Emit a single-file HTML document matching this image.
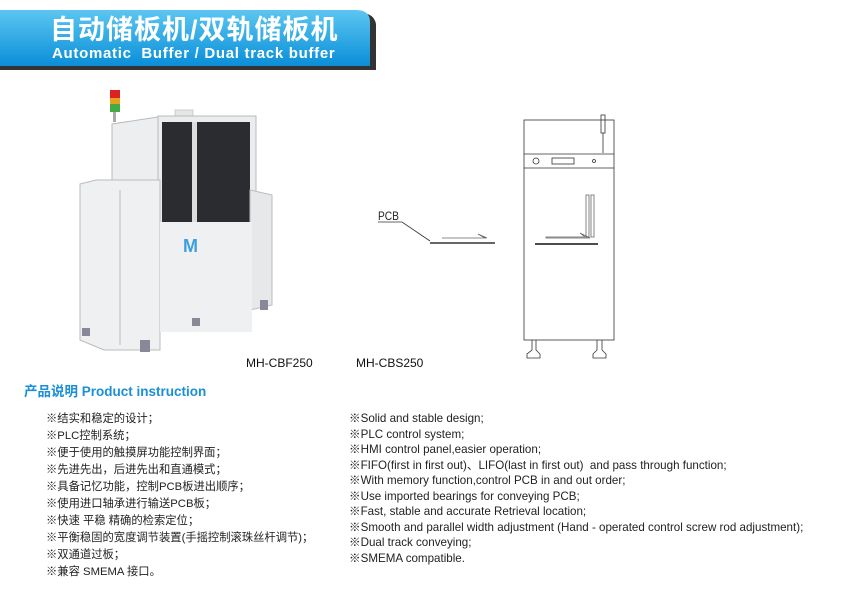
<!DOCTYPE html>
<html><head><meta charset="utf-8"><style>
body{margin:0;width:856px;height:601px;background:#fff;position:relative;overflow:hidden;font-family:"Liberation Sans","Noto Sans CJK SC",sans-serif;}
.t{position:absolute;white-space:nowrap;}
.cn div{height:17px;line-height:17px;font-size:11.3px;color:#222;}
.en div{height:15.5px;line-height:15.5px;font-size:11.6px;color:#222;}
</style></head><body>
<svg width="856" height="601" style="position:absolute;left:0;top:0">
<defs>
<linearGradient id="bl" x1="0" y1="0" x2="0" y2="1"><stop offset="0" stop-color="#5cc6f2"/><stop offset="1" stop-color="#0a8fd8"/></linearGradient>
</defs>
<path d="M0 13 H360 Q374 13 376 24 V70 H0 Z" fill="#333"/>
<path d="M0 10 H356 Q370 10 370 22 V66 H0 Z" fill="url(#bl)"/>
<rect x="110" y="90" width="10" height="8" fill="#d22"/>
<rect x="110" y="98" width="10" height="6" fill="#e8a020"/>
<rect x="110" y="104" width="10" height="8" fill="#4a4"/>
<rect x="113" y="112" width="3" height="10" fill="#aaa"/>
<path d="M112 124 L158 117 V185 H112 Z" fill="#eceef0" stroke="#bbb"/>
<rect x="175" y="110" width="18" height="8" fill="#e6e6e6" stroke="#ccc"/>
<rect x="158" y="116" width="98" height="110" fill="#eaecee" stroke="#bbb"/>
<rect x="162" y="122" width="88" height="100" fill="#2a2c30"/>
<rect x="192" y="122" width="5" height="100" fill="#ddd"/>
<path d="M80 184 L96 180 H160 V350 H104 L80 340 Z" fill="#eff0f2" stroke="#bbb"/>
<path d="M250 190 L272 195 V305 L250 310 Z" fill="#e6e8ea" stroke="#bbb"/>
<rect x="160" y="222" width="92" height="110" fill="#eff0f2"/>
<line x1="120" y1="190" x2="120" y2="345" stroke="#bbb"/>
<text x="183" y="252" font-family="Liberation Sans" font-weight="bold" font-size="18" fill="#3aa0e0">M</text>
<rect x="140" y="340" width="10" height="12" fill="#889"/>
<rect x="260" y="300" width="8" height="10" fill="#889"/>
<rect x="82" y="328" width="8" height="8" fill="#889"/>
<rect x="192" y="318" width="8" height="8" fill="#889"/>
<g fill="none" stroke="#333" stroke-width="0.8">
<text x="378" y="220" font-family="Liberation Sans" font-size="12" fill="#222" stroke="none" transform="translate(378 0) scale(0.85 1) translate(-378 0)">PCB</text>
<path d="M378 222 H402 L430 241"/>
<line x1="430" y1="243" x2="495" y2="243" stroke-width="1.5"/>
<path d="M442 238 H485 L478 234 L487 238" stroke="#666"/>
<rect x="524" y="120" width="90" height="220"/>
<line x1="524" y1="154" x2="614" y2="154"/>
<line x1="524" y1="168" x2="614" y2="168"/>
<circle cx="536" cy="161" r="3"/>
<rect x="552" y="158" width="22" height="6"/>
<circle cx="594" cy="161" r="1.5"/>
<rect x="601" y="115" width="4" height="18"/>
<line x1="603" y1="133" x2="603" y2="153"/>
<rect x="586" y="195" width="3" height="42" stroke="#666"/>
<rect x="591" y="195" width="3" height="42" stroke="#666"/>
<path d="M546 237 H585 L580 233 L590 238 H546 Z" stroke="#666"/>
<line x1="535" y1="244" x2="598" y2="244" stroke-width="1.8"/>
<path d="M532 340 V350 L527 354 V358 H540 V354 L536 350 V340"/>
<path d="M597 340 V350 L593 354 V358 H606 V354 L602 350 V340"/>
</g>
</svg>
<div class="t" style="left:50px;top:14px;font-size:27px;font-weight:bold;color:#fff;letter-spacing:1px;line-height:32px">自动储板机/双轨储板机</div>
<div class="t" style="left:52px;top:45px;font-size:15px;font-weight:bold;color:#fff;line-height:18px;letter-spacing:0.7px">Automatic&nbsp; Buffer / Dual track buffer</div>
<div class="t" style="left:246px;top:356px;font-size:12px;color:#111">MH-CBF250</div>
<div class="t" style="left:356px;top:356px;font-size:12px;color:#111">MH-CBS250</div>
<div class="t" style="left:24px;top:380px;font-size:13.5px;font-weight:bold;color:#1a8fd8">产品说明 Product instruction</div>
<div class="t cn" style="left:46px;top:411px">
<div>※结实和稳定的设计；</div><div>※PLC控制系统；</div><div>※便于使用的触摸屏功能控制界面；</div><div>※先进先出，后进先出和直通模式；</div><div>※具备记忆功能，控制PCB板进出顺序；</div><div>※使用进口轴承进行输送PCB板；</div><div>※快速 平稳 精确的检索定位；</div><div>※平衡稳固的宽度调节装置(手摇控制滚珠丝杆调节)；</div><div>※双通道过板；</div><div>※兼容 SMEMA 接口。</div>
</div>
<div class="t en" style="left:349px;top:411px">
<div>※Solid and stable design;</div><div>※PLC control system;</div><div>※HMI control panel,easier operation;</div><div>※FIFO(first in first out)、LIFO(last in first out)&nbsp; and pass through function;</div><div>※With memory function,control PCB in and out order;</div><div>※Use imported bearings for conveying PCB;</div><div>※Fast, stable and accurate Retrieval location;</div><div>※Smooth and parallel width adjustment (Hand - operated control screw rod adjustment);</div><div>※Dual track conveying;</div><div>※SMEMA compatible.</div>
</div>
</body></html>
